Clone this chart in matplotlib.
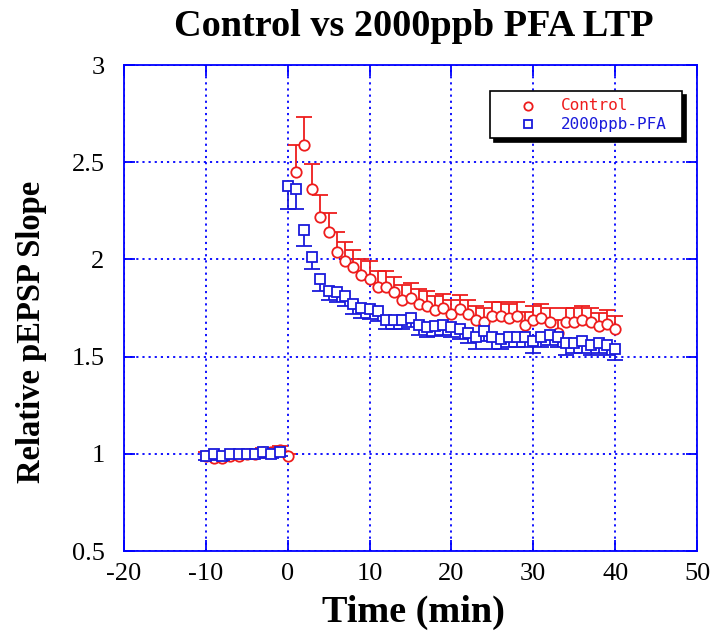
import matplotlib
matplotlib.use("Agg")
import matplotlib.pyplot as plt
import numpy as np
from matplotlib.lines import Line2D
from matplotlib.patches import Rectangle

# ---------------- data ----------------
control_x = list(range(-10, 41))
control_y = [0.99, 0.98, 0.98, 0.99, 0.99, 1.00, 1.00, 1.01, 1.01, 1.02, 0.99,
             2.45, 2.59, 2.36, 2.22, 2.14, 2.04, 1.99, 1.96, 1.92, 1.90,
             1.86, 1.86, 1.83, 1.79, 1.80, 1.77, 1.76, 1.74, 1.75, 1.72,
             1.745, 1.72, 1.69, 1.68, 1.71, 1.71, 1.70, 1.71, 1.66, 1.69,
             1.70, 1.68, 1.62, 1.68, 1.68, 1.69, 1.68, 1.655, 1.67, 1.64]
control_err = [0.02, 0.02, 0.02, 0.02, 0.02, 0.02, 0.02, 0.02, 0.02, 0.02, 0.01,
               0.14, 0.14, 0.13, 0.11, 0.10, 0.10, 0.10, 0.09, 0.08, 0.09,
               0.08, 0.08, 0.08, 0.08, 0.08, 0.08, 0.08, 0.07, 0.07, 0.07,
               0.07, 0.07, 0.07, 0.07, 0.07, 0.07, 0.07, 0.07, 0.07, 0.07,
               0.07, 0.07, 0.07, 0.07, 0.07, 0.07, 0.07, 0.07, 0.07, 0.07]

pfa_x = list(range(-10, 41))
pfa_y = [0.99, 1.00, 0.99, 1.00, 1.00, 1.00, 1.00, 1.01, 1.00, 1.01,
         2.38, 2.36, 2.15, 2.01, 1.90, 1.84, 1.83, 1.81, 1.77, 1.75,
         1.745, 1.735, 1.69, 1.69, 1.69, 1.70, 1.66, 1.65, 1.655, 1.66,
         1.65, 1.64, 1.62, 1.60, 1.63, 1.60, 1.59, 1.60, 1.60, 1.60,
         1.58, 1.60, 1.61, 1.60, 1.57, 1.57, 1.58, 1.56, 1.57, 1.56, 1.54]
pfa_err = [0.02, 0.02, 0.02, 0.02, 0.02, 0.02, 0.02, 0.02, 0.02, 0.02,
           0.12, 0.10, 0.08, 0.06, 0.06, 0.05, 0.05, 0.05, 0.05, 0.05,
           0.05, 0.05, 0.05, 0.05, 0.05, 0.05, 0.05, 0.05, 0.05, 0.05,
           0.05, 0.05, 0.05, 0.06, 0.05, 0.06, 0.05, 0.05, 0.05, 0.05,
           0.06, 0.05, 0.05, 0.05, 0.06, 0.05, 0.06, 0.05, 0.05, 0.05, 0.06]

title = "Control vs 2000ppb PFA LTP"
xlabel = "Time (min)"
ylabel = "Relative pEPSP Slope"
series_labels = ["Control", "2000ppb-PFA"]
xticks = [-20, -10, 0, 10, 20, 30, 40, 50]
yticks = [0.5, 1, 1.5, 2, 2.5, 3]
ytick_labels = ["0.5", "1", "1.5", "2", "2.5", "3"]

# ---------------- figure ----------------
RED = "#ee1c1c"
BLUE = "#1a1adb"
AXBLUE = "#0000ff"
serif = ["Liberation Serif", "DejaVu Serif"]
W, H = 714, 636

def fx(px):
    return px / W

def fy(py):
    return 1 - py / H

fig = plt.figure(figsize=(7.14, 6.36), dpi=100)
ax = fig.add_axes([fx(124), fy(551), (697-124)/W, (551-65)/H])

ax.set_xlim(-20, 50)
ax.set_ylim(0.5, 3)

# control: upward error bars
cz = np.zeros(len(control_err))
eb = ax.errorbar(control_x, control_y, yerr=[cz, control_err], fmt='none',
                 ecolor=RED, elinewidth=1.3, capsize=5.5, capthick=1.3, zorder=2)
eb[1][0].set_visible(False)
ax.plot(control_x, control_y, linestyle='none', marker='o', markersize=7.5,
        markerfacecolor='white', markeredgecolor=RED, markeredgewidth=1.3, zorder=3)

# pfa: downward error bars
pz = np.zeros(len(pfa_err))
eb2 = ax.errorbar(pfa_x, pfa_y, yerr=[pfa_err, pz], fmt='none',
                  ecolor=BLUE, elinewidth=1.3, capsize=5.5, capthick=1.3, zorder=4)
eb2[1][1].set_visible(False)
ax.plot(pfa_x, pfa_y, linestyle='none', marker='s', markersize=7,
        markerfacecolor='white', markeredgecolor=BLUE, markeredgewidth=1.3, zorder=5)

# grid / axes
ax.set_xticks(xticks)
ax.set_xticklabels([str(t) for t in xticks])
ax.set_yticks(yticks)
ax.set_yticklabels(ytick_labels)
ax.grid(True, color=AXBLUE, linestyle=(0, (1.2, 2.2)), linewidth=1.3, zorder=0)
ax.set_axisbelow(True)

for s in ax.spines.values():
    s.set_color(AXBLUE)
    s.set_linewidth(1.3)
ax.tick_params(axis='both', which='major', direction='in', length=8, width=1.3,
               color=AXBLUE, top=True, right=True, labelsize=19)
ax.tick_params(axis='x', pad=9)
ax.tick_params(axis='y', pad=14)
for lab in ax.get_xticklabels() + ax.get_yticklabels():
    lab.set_family(serif)

fig.text(fx(414), fy(27), title, ha='center', va='center',
         fontsize=27.5, fontweight='bold', family=serif)
fig.text(fx(413), fy(612), xlabel, ha='center', va='center',
         fontsize=27.5, fontweight='bold', family=serif)
fig.text(fx(32), fy(332), ylabel, ha='center', va='center', rotation=90,
         fontsize=23.5, fontweight='bold', family=serif)

# legend box (drawn by hand to match the reference framing)
lx0, ly0, lx1, ly1 = 490, 91, 682, 138
fig.add_artist(Rectangle((fx(lx0 + 4), fy(ly1 + 4)), (lx1 - lx0) / W, (ly1 - ly0) / H,
                         transform=fig.transFigure, facecolor='black',
                         edgecolor='black', linewidth=1.2, zorder=20))
fig.add_artist(Rectangle((fx(lx0), fy(ly1)), (lx1 - lx0) / W, (ly1 - ly0) / H,
                         transform=fig.transFigure, facecolor='white',
                         edgecolor='black', linewidth=1.2, zorder=21))
legend_colors = [RED, BLUE]
legend_markers = ['o', 's']
legend_rows = [106, 124]
for lab, col, mk, row in zip(series_labels, legend_colors, legend_markers, legend_rows):
    fig.add_artist(Line2D([fx(528)], [fy(row)], transform=fig.transFigure,
                          linestyle='none', marker=mk, markersize=6,
                          markerfacecolor='white', markeredgecolor=col,
                          markeredgewidth=1.3, zorder=22))
    fig.text(fx(561), fy(row), lab, ha='left', va='center', color=col,
             family='DejaVu Sans Mono', fontsize=11.5, zorder=22)

fig.savefig("out.png", dpi=100)
